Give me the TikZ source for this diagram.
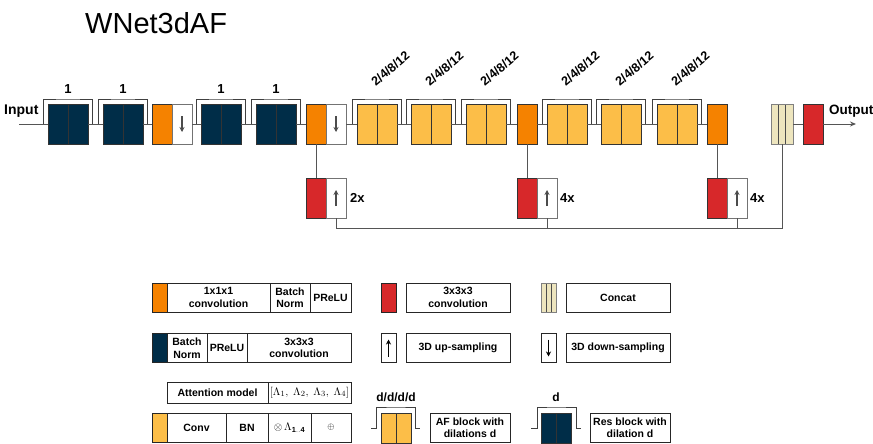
\documentclass[tikz,border=0pt]{standalone}
\usepackage{fontspec}
\setmainfont{Liberation Sans}
\usepackage{tikz}
\usetikzlibrary{arrows.meta, positioning, calc}
\definecolor{navy}{RGB}{0, 45, 72}
\definecolor{tangerine}{RGB}{245, 130, 0}
\definecolor{amber}{RGB}{252, 190, 72}
\definecolor{brick}{RGB}{215, 40, 42}
\definecolor{sand}{RGB}{237, 229, 190}
\definecolor{wiregray}{RGB}{85, 85, 85}

\begin{document}
\begin{tikzpicture}[x=1pt, y=-1pt,
		block/.style={rectangle, draw=black!80, line width=0.8pt, inner sep=0pt, outer sep=0pt,
			minimum width=40pt, minimum height=40pt},
		halves/.style={path picture={\draw[line width=0.8pt]
				(path picture bounding box.north) -- (path picture bounding box.south);}},
		resblk/.style={block, halves, fill=navy},
		afblk/.style={block, halves, fill=amber},
		onebyone/.style={block, fill=tangerine, minimum width=20pt},
		upconv/.style={block, fill=brick, minimum width=20pt},
		sampler/.style={block, draw=black!55, fill=white, minimum width=20pt},
		stripes/.style={path picture={\foreach \f in {0.333, 0.667}
				\draw[black!70, line width=0.8pt]
				($(path picture bounding box.north west)!\f!(path picture bounding box.north east)$) --
				($(path picture bounding box.south west)!\f!(path picture bounding box.south east)$);}},
		catblk/.style={block, stripes, draw=black!50, fill=sand, minimum width=22pt},
		wire/.style={draw=wiregray, line width=0.9pt},
		skip/.style={draw=black!75, line width=0.9pt},
		glyph/.style={-{Stealth[length=5pt, width=5pt]}, draw=black!70, line width=1.1pt},
		numlbl/.style={font=\fontsize{13}{15}\selectfont\bfseries, inner sep=0pt},
		key/.style={rectangle, draw=black!85, line width=0.7pt, inner sep=0pt, outer sep=0pt,
			minimum height=29pt, align=center, font=\fontsize{10.5}{12.5}\selectfont\bfseries},
		swatch/.style={key, minimum width=15pt}
		]
		\useasboundingbox (0,0) rectangle (873,444);
		
		\node[anchor=base west, inner sep=0pt] (title) at (85,33.3)
		{\fontsize{29}{34}\selectfont WNet3dAF};
		
		% main path
		\coordinate (inp) at (19,124);
		\node[numlbl, font=\fontsize{14}{16}\selectfont\bfseries, anchor=base west] (inlbl) at (4,114) {Input};
		\node[resblk] (res1) at (68,124) {};
		\node[resblk] (res2) at (123,124) {};
		\node[onebyone] (cv1) at (162,124) {};
		\node[sampler, right=0pt of cv1] (dn1) {};
		\node[resblk] (res3) at (221,124) {};
		\node[resblk] (res4) at (276,124) {};
		\node[onebyone] (cv2) at (316,124) {};
		\node[sampler, right=0pt of cv2] (dn2) {};
		\node[afblk] (af1) at (377,124) {};
		\node[afblk] (af2) at (431,124) {};
		\node[afblk] (af3) at (486,124) {};
		\node[onebyone] (cv3) at (527,124) {};
		\node[afblk] (af4) at (567,124) {};
		\node[afblk] (af5) at (621,124) {};
		\node[afblk] (af6) at (677,124) {};
		\node[onebyone] (cv4) at (717,124) {};
		\node[catblk] (cat) at (782,124) {};
		\node[upconv] (outc) at (813,124) {};
		\coordinate (outend) at (856,124);
		\node[numlbl, font=\fontsize{13.5}{16}\selectfont\bfseries, anchor=base west] (outlbl) at (829,114) {Output};
		
		\draw[glyph] ([yshift=8pt]dn1.center) -- ([yshift=-8pt]dn1.center);
		\draw[glyph] ([yshift=8pt]dn2.center) -- ([yshift=-8pt]dn2.center);
		
		\foreach \a/\b in {inp/res1, res1/res2, res2/cv1, dn1/res3, res3/res4, res4/cv2,
			dn2/af1, af1/af2, af2/af3, af3/cv3, cv3/af4, af4/af5, af5/af6, af6/cv4, cat/outc}
		\draw[wire] (\a) -- (\b);
		\draw[wire, -{Stealth[length=6pt, width=5pt]}] (outc) -- (outend);
		
		% skip brackets
		\foreach \b in {res1, res2, res3, res4, af1, af2, af3, af4, af5, af6}
		\draw[skip] ([xshift=-4.5pt]\b.west) |- ([yshift=5pt]\b.north) -| ([xshift=4.5pt]\b.east);
		\foreach \b in {res1, res2, res3, res4}
		\node[numlbl, above=10pt of \b] (n-\b) {1};
		\foreach \b in {af1, af2, af3, af4, af5, af6}
		\node[numlbl, font=\fontsize{12.5}{15}\selectfont\bfseries, rotate=40, anchor=south west]
		(n-\b) at ([xshift=-1pt, yshift=17pt]\b.north) {2/4/8/12};
		
		% upsampling branch
		\node[upconv] (uc1) at (316,198) {};
		\node[sampler, right=0pt of uc1] (us1) {};
		\node[numlbl, right=4pt of us1] (f1) {2x};
		\node[upconv] (uc2) at (527,198) {};
		\node[sampler, right=0pt of uc2] (us2) {};
		\node[numlbl, right=3pt of us2] (f2) {4x};
		\node[upconv] (uc3) at (717,198) {};
		\node[sampler, right=0pt of uc3] (us3) {};
		\node[numlbl, right=3pt of us3] (f3) {4x};
		\foreach \s in {us1, us2, us3}
		\draw[glyph] ([yshift=-8pt]\s.center) -- ([yshift=8pt]\s.center);
		
		\coordinate (bus) at (782,228);
		\draw[wire] (cv2) -- (uc1);
		\draw[wire] (cv3) -- (uc2);
		\draw[wire] (cv4) -- (uc3);
		\draw[wire] (us1.south) |- (bus) -- (cat.south);
		\draw[wire] (us2.south) -- (us2.south |- bus);
		\draw[wire] (us3.south) -- (us3.south |- bus);
		
		% legend
		\node[swatch, fill=tangerine] (k1) at (159.5,297.5) {};
		\node[key, minimum width=103pt, right=0pt of k1] (k1a) {1x1x1\\convolution};
		\node[key, minimum width=40pt, right=0pt of k1a] (k1b) {Batch\\Norm};
		\node[key, minimum width=41pt, right=0pt of k1b] (k1c) {PReLU};
		
		\node[swatch, fill=navy] (k2) at (159.5,348) {};
		\node[key, minimum width=40pt, right=0pt of k2] (k2a) {Batch\\Norm};
		\node[key, minimum width=40pt, right=0pt of k2a] (k2b) {PReLU};
		\node[key, minimum width=104pt, right=0pt of k2b] (k2c) {3x3x3\\convolution};
		
		\node[key, minimum width=101pt, minimum height=21pt] (k3a) at (217.5,392.5) {Attention model};
		\node[key, minimum width=83pt, minimum height=21pt, right=0pt of k3a,
		font=\fontsize{11}{13}\selectfont] (k3b) {$[\Lambda_1,\;\Lambda_2,\;\Lambda_3,\;\Lambda_4]$};
		
		\node[swatch, fill=amber] (k4) at (159.5,427.5) {};
		\node[key, minimum width=59pt, right=0pt of k4] (k4a) {Conv};
		\node[key, minimum width=42pt, right=0pt of k4a] (k4b) {BN};
		\node[key, minimum width=43pt, right=0pt of k4b] (k4c)
		{$\otimes\,\Lambda_{\mathbf{1..4}}$};
		\node[key, minimum width=40pt, right=0pt of k4c, font=\fontsize{9.5}{11}\selectfont] (k4d) {$\oplus$};
		
		\node[swatch, fill=brick] (k5) at (388.5,297.5) {};
		\node[key, minimum width=104pt] (k5a) at (458,297.5) {3x3x3\\convolution};
		\node[swatch, fill=white] (k6) at (388.5,348) {};
		\draw[glyph, draw=black] ([yshift=-8.5pt]k6.center) -- ([yshift=8.5pt]k6.center);
		\node[key, minimum width=104pt] (k6a) at (458,348) {3D up-sampling};
		
		\node[swatch, stripes, draw=black!50, fill=sand] (k7) at (548.5,297.5) {};
		\node[key, minimum width=104pt] (k7a) at (618,297.5) {Concat};
		\node[swatch, fill=white] (k8) at (548.5,348) {};
		\draw[glyph, draw=black] ([yshift=8.5pt]k8.center) -- ([yshift=-8.5pt]k8.center);
		\node[key, minimum width=104pt] (k8a) at (618,348) {3D down-sampling};
		
		\node[afblk, minimum width=30pt, minimum height=30pt] (afkey) at (396,428) {};
		\draw[skip] ([xshift=-10pt]afkey.west) -- ([xshift=-5pt]afkey.west)
		|- ([yshift=6pt]afkey.north) -| ([xshift=4pt]afkey.east) -- ([xshift=9pt]afkey.east);
		\node[numlbl, font=\fontsize{12}{14}\selectfont\bfseries, above=11pt of afkey] (afd) {d/d/d/d};
		\node[key, minimum width=80pt] (afkeytxt) at (470,427.5) {AF block with\\dilations d};
		
		\node[resblk, minimum width=30pt, minimum height=30pt] (reskey) at (556,428) {};
		\draw[skip] ([xshift=-10pt]reskey.west) -- ([xshift=-4pt]reskey.west)
		|- ([yshift=6pt]reskey.north) -| ([xshift=5pt]reskey.east) -- ([xshift=10pt]reskey.east);
		\node[numlbl, font=\fontsize{12}{14}\selectfont\bfseries, above=11pt of reskey] (resd) {d};
		\node[key, minimum width=80pt] (reskeytxt) at (630,427.5) {Res block with\\dilation d};
	\end{tikzpicture}
\end{document}
